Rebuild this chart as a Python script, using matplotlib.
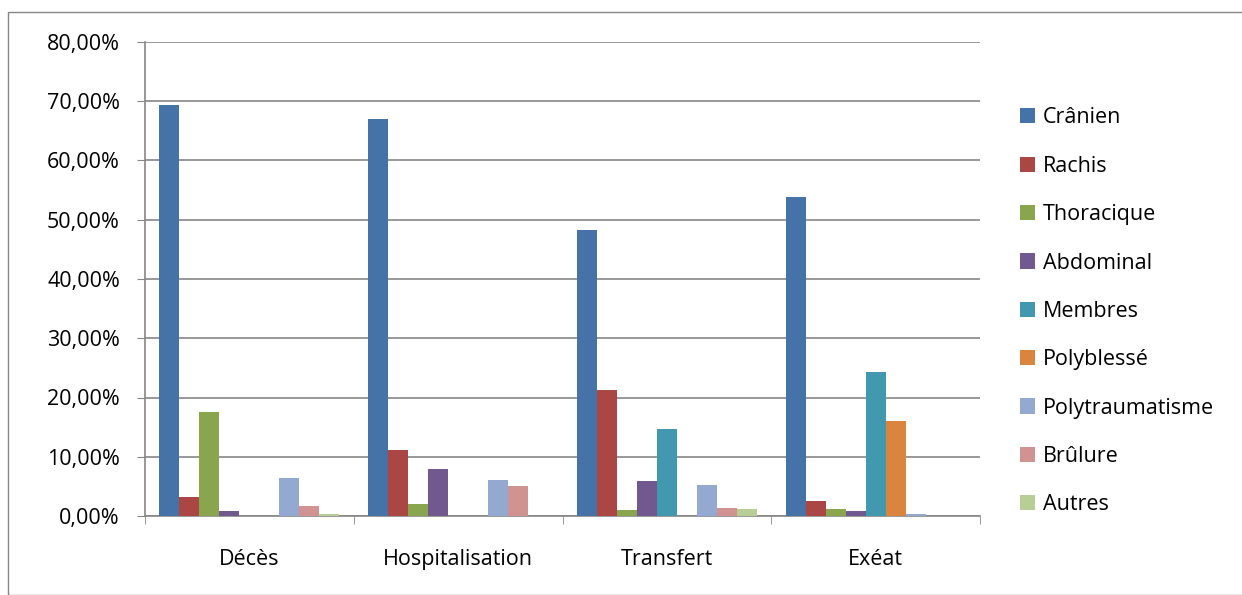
import matplotlib.pyplot as plt
import numpy as np
from matplotlib.patches import Rectangle

# donnees (en %)
categories = ["Décès", "Hospitalisation", "Transfert", "Exéat"]
series = ["Crânien", "Rachis", "Thoracique", "Abdominal", "Membres",
          "Polyblessé", "Polytraumatisme", "Brûlure", "Autres"]

cranien = [69.4, 67.0, 48.3, 53.8]
rachis = [3.15, 11.1, 21.3, 2.6]
thoracique = [17.5, 2.0, 1.0, 1.2]
abdominal = [0.8, 7.9, 5.9, 0.85]
membres = [0.0, 0.0, 14.7, 24.25]
polyblesse = [0.0, 0.0, 0.0, 16.0]
polytrauma = [6.4, 6.1, 5.3, 0.35]
brulure = [1.7, 5.1, 1.35, 0.0]
autres = [0.35, 0.0, 1.2, 0.0]

valeurs = [cranien, rachis, thoracique, abdominal, membres,
           polyblesse, polytrauma, brulure, autres]
couleurs = ["#4572A7", "#AA4643", "#89A54E", "#71588F", "#4198AF",
            "#DB843D", "#93A9CF", "#D19392", "#B9CD96"]

plt.rcParams['font.family'] = ['Open Sans', 'DejaVu Sans']
fs = 15.5

fig = plt.figure(figsize=(12.42, 5.95), dpi=100)
# cadre du graphique
fig.patches.append(Rectangle((8/1242, 0), 1.2, 1 - 12/595, transform=fig.transFigure,
                             fill=False, edgecolor="#868686", linewidth=1))

ax = fig.add_axes([145/1242, 1 - 516/595, (980-145)/1242, (516-42)/595])

x = np.arange(len(categories))
w = 20/208.75
for i, (nom, v) in enumerate(zip(series, valeurs)):
    pos = x - 4*w + i*w
    ax.bar(pos, v, width=w, color=couleurs[i], label=nom, zorder=3)

ax.set_xlim(-0.5, 3.5)
ax.set_ylim(0, 80)
ax.set_yticks(np.arange(0, 81, 10))
ax.set_yticklabels([("%.2f%%" % t).replace(".", ",") for t in np.arange(0, 81, 10)], fontsize=fs)
ax.set_xticks(x)
ax.set_xticklabels(categories, fontsize=fs)
ax.set_xticks(np.arange(-0.5, 3.6, 1), minor=True)
ax.tick_params(axis='x', which='major', length=0, pad=24)
ax.tick_params(axis='x', which='minor', length=6, color="#868686")
ax.tick_params(axis='y', length=6, color="#868686", pad=12)
ax.grid(axis='y', color="#868686", linewidth=1.2, zorder=0)
for s in ["top", "right"]:
    ax.spines[s].set_visible(False)
for s in ["left", "bottom"]:
    ax.spines[s].set_color("#868686")
    ax.spines[s].set_linewidth(1.2)

leg = ax.legend(loc="upper left", bbox_to_anchor=(1.038, 0.88), frameon=False,
                fontsize=fs, handlelength=0.7, handleheight=0.7,
                labelspacing=1.27, handletextpad=0.35, borderaxespad=0)

plt.savefig("out.png", dpi=100)
